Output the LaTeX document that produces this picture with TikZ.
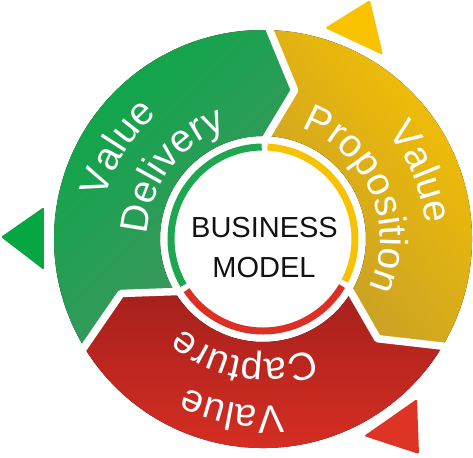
\documentclass[tikz,border=0pt]{standalone}
\usepackage{fontspec}
\setmainfont{Liberation Sans}
\newfontfamily\arcfont{Liberation Sans}
\usetikzlibrary{decorations.text}
\definecolor{gA}{RGB}{10,168,72}
\definecolor{gB}{RGB}{72,146,100}
\definecolor{yA}{RGB}{248,194,0}
\definecolor{yB}{RGB}{196,158,42}
\definecolor{rA}{RGB}{166,32,28}
\definecolor{rB}{RGB}{222,48,36}
\definecolor{gT}{RGB}{6,166,66}
\definecolor{yT}{RGB}{248,194,0}
\definecolor{rT}{RGB}{222,52,38}
\definecolor{gR}{RGB}{30,166,80}
\definecolor{yR}{RGB}{248,194,0}
\definecolor{rR}{RGB}{220,48,36}
\newcommand\arctext{\arcfont\fontsize{39}{39}\selectfont\color{white}}
\begin{document}
\begin{tikzpicture}[x=1pt,y=1pt,
  gap/.style={white, line width=7.5pt, line join=round},
  ringarc/.style={line width=7pt},
  tri/.style={rounded corners=1.5pt},
  curvetext/.style={decorate, decoration={text along path, text align=center, text={|\arctext|#1}}}]
\useasboundingbox (-263,-218) rectangle (210,239);
% band segments
\fill[top color=gA, bottom color=gB, shading angle=45]
  (89:209) arc[start angle=89, end angle=212, radius=209] -- (201:152) -- (212:103)
  arc[start angle=212, end angle=89, radius=103] -- (78:152) -- cycle;
\fill[top color=yA, bottom color=yB, shading angle=-50]
  (89:209) -- (78:152) -- (89:103) arc[start angle=89, end angle=-30, radius=103]
  -- (-41:152) -- (-30:209) arc[start angle=-30, end angle=89, radius=209] -- cycle;
\fill[top color=rA, bottom color=rB]
  (-30:209) -- (-41:152) -- (-30:103) arc[start angle=-30, end angle=-148, radius=103]
  -- (-159:152) -- (-148:209) arc[start angle=-148, end angle=-30, radius=209] -- cycle;
% white gaps between segments
\coordinate (o1) at (89:216); \coordinate (t1) at (78:152); \coordinate (i1) at (89:99);
\coordinate (o2) at (-30:216); \coordinate (t2) at (-41:152); \coordinate (i2) at (-30:99);
\coordinate (o3) at (-148:216); \coordinate (t3) at (-159:152); \coordinate (i3) at (-148:99);
\draw[gap] (o1) -- (t1) -- (i1);
\draw[gap] (o2) -- (t2) -- (i2);
\draw[gap] (o3) -- (t3) -- (i3);
% outer triangles
\fill[gT, tri] (-219,32) -- (-219,-31) -- (-262,2) -- cycle;
\fill[yT, tri] (62,211) -- (120,184) -- (107,239) -- cycle;
\fill[rT, tri] (101,-197) -- (154,-160) -- (156,-215) -- cycle;
% inner ring
\draw[ringarc, gR] (90.8:92) arc[start angle=90.8, end angle=210.2, radius=92];
\draw[ringarc, yR] (87.2:92) arc[start angle=87.2, end angle=-27.2, radius=92];
\draw[ringarc, rR] (-30.8:92) arc[start angle=-30.8, end angle=-146.2, radius=92];
% centre text
\node[anchor=base, inner sep=0, font=\fontsize{29}{29}\selectfont, text=black!93] (bm1) at (1.5,1) {BUSINESS};
\node[anchor=base, inner sep=0, font=\fontsize{29}{29}\selectfont, text=black!93] (bm2) at (1,-39) {MODEL};
% curved labels
\path[curvetext={Value}] (198:163) arc[start angle=198, end angle=98, radius=163];
\path[curvetext={Delivery}] (203:116) arc[start angle=203, end angle=83, radius=116];
\path[curvetext={Value}] (73:163) arc[start angle=73, end angle=-27, radius=163];
\path[curvetext={Proposition}] (83:117) arc[start angle=83, end angle=-37, radius=117];
\path[curvetext={Value}] (-50:167) arc[start angle=-50, end angle=-150, radius=167];
\path[curvetext={Capture}] (-39:120) arc[start angle=-39, end angle=-159, radius=120];
\end{tikzpicture}
\end{document}
